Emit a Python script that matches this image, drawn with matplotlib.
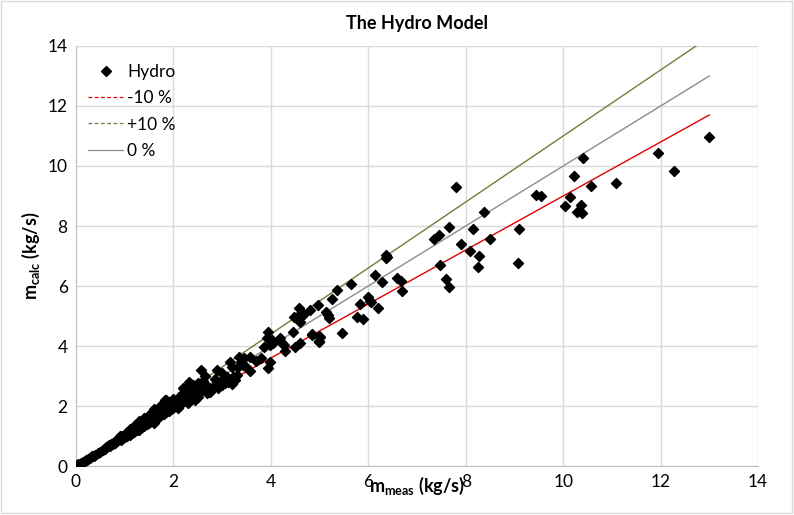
import numpy as np
import matplotlib.pyplot as plt
from matplotlib.lines import Line2D
from matplotlib.patches import Rectangle

plt.rcParams['font.family'] = ['Lato', 'DejaVu Sans']
plt.rcParams['mathtext.default'] = 'regular'

m_meas = [
    0.02, 0.05, 0.08, 0.10, 0.12, 0.15, 0.18, 0.20, 0.22, 0.25, 0.28, 0.30, 0.33, 0.36, 0.40, 0.45, 0.50, 0.55,
    0.60, 0.62, 0.65, 0.68, 0.70, 0.72, 0.75, 0.78, 0.80, 0.82, 0.85, 0.88, 0.90, 0.92, 0.95, 0.97, 1.00, 1.00,
    1.02, 1.05, 1.08, 1.10, 1.12, 1.15, 1.18, 1.20, 1.22, 1.25, 1.28, 1.30, 1.32, 1.35, 1.38, 1.40, 1.42, 1.45,
    1.48, 1.50, 1.30, 1.40,
    1.52, 1.55, 1.58, 1.60, 1.62, 1.65, 1.68, 1.70, 1.72, 1.75, 1.78, 1.80, 1.82, 1.85, 1.88, 1.90, 1.92, 1.95,
    1.98, 2.00, 1.60, 1.75, 1.85,
    2.02, 2.05, 2.08, 2.10, 2.12, 2.15, 2.18, 2.20, 2.22, 2.25, 2.28, 2.30, 2.32, 2.35, 2.38, 2.40, 2.42, 2.45,
    2.48, 2.50, 2.55, 2.60, 2.65, 2.70, 2.30, 2.56, 2.31, 2.34, 1.83, 2.51, 2.61, 2.92, 2.75, 2.68,
    1.50, 1.60, 1.70, 1.90, 2.00, 2.10, 2.20, 2.30, 2.40, 2.50, 2.60, 2.70, 2.80, 2.85, 2.90, 3.00,
    3.00, 3.10, 3.20, 2.45, 1.20, 1.10, 0.90, 1.30, 2.20, 2.65, 2.90, 3.20, 3.50, 3.45, 3.70, 3.80,
    3.09, 3.13, 3.06, 3.16, 3.02, 3.23, 3.26, 3.30, 3.35, 3.38, 3.33, 3.42, 3.57, 3.57, 3.98, 3.94,
    3.85, 3.95, 3.92, 4.02, 4.05, 3.98, 4.19, 4.22, 4.26, 4.30, 4.50, 4.60, 4.45, 4.48, 4.60, 4.84,
    5.00, 4.98, 4.58, 4.62, 4.65, 4.80, 4.96, 4.85, 4.99, 4.99, 4.63, 4.67, 5.13, 5.18, 5.20,
    5.26, 5.35, 5.64, 5.46, 5.77, 5.89, 5.84, 6.00, 6.04, 6.06, 6.19, 6.13, 6.29, 6.58, 6.68, 6.70,
    6.37, 6.38, 6.36, 7.34, 7.45, 7.48, 7.59, 7.66, 7.66, 7.80, 7.90, 8.08, 8.14, 8.28, 8.26, 8.37,
    8.49, 9.07, 9.10, 9.44, 9.54, 10.03, 10.14, 10.23, 10.40, 10.37, 10.29, 10.38, 10.57, 11.08,
    11.95, 12.28, 13.00,
]
m_calc = [
    0.03, 0.06, 0.08, 0.10, 0.11, 0.14, 0.17, 0.20, 0.21, 0.24, 0.27, 0.29, 0.32, 0.35, 0.38, 0.44, 0.48, 0.55,
    0.58, 0.64, 0.66, 0.70, 0.68, 0.75, 0.72, 0.80, 0.78, 0.85, 0.82, 0.90, 0.95, 0.88, 1.00, 0.93, 1.05, 0.96,
    1.10, 1.00, 1.12, 1.05, 1.20, 1.10, 1.25, 1.15, 1.30, 1.20, 1.35, 1.25, 1.40, 1.30, 1.45, 1.35, 1.50, 1.40,
    1.55, 1.45, 1.50, 1.60,
    1.60, 1.50, 1.65, 1.55, 1.75, 1.60, 1.80, 1.65, 1.85, 1.70, 1.90, 1.75, 1.95, 1.80, 2.00, 1.85, 2.05, 1.90,
    2.10, 1.95, 1.90, 2.05, 2.20,
    2.15, 2.00, 2.20, 2.05, 2.30, 2.10, 2.35, 2.15, 2.40, 2.20, 2.45, 2.25, 2.50, 2.30, 2.55, 2.35, 2.60, 2.40,
    2.65, 2.45, 2.50, 2.60, 2.55, 2.50, 2.64, 3.20, 2.81, 2.64, 2.20, 2.76, 2.64, 2.59, 2.48, 2.42,
    1.70, 1.45, 1.90, 2.15, 2.25, 1.95, 2.45, 2.10, 2.70, 2.30, 2.85, 2.65, 2.60, 2.90, 2.75, 2.70,
    3.10, 2.95, 3.30, 2.20, 1.35, 1.25, 1.00, 1.20, 2.60, 3.00, 3.20, 2.75, 3.30, 3.60, 3.50, 3.60,
    2.98, 2.81, 2.76, 3.48, 2.87, 2.98, 2.87, 3.03, 3.64, 3.48, 3.31, 3.37, 3.64, 3.18, 3.48, 3.26,
    3.98, 4.48, 4.26, 4.20, 4.09, 4.03, 4.26, 4.09, 4.03, 3.84, 3.98, 4.09, 4.48, 4.98, 4.79, 4.39,
    4.31, 4.14, 5.26, 5.09, 5.03, 5.20, 5.37, 4.37, 4.33, 4.16, 5.09, 5.06, 5.14, 5.03, 4.94,
    5.58, 5.88, 6.08, 4.44, 4.98, 4.91, 5.41, 5.64, 5.51, 5.46, 5.26, 6.37, 6.14, 6.26, 6.18, 5.82,
    7.03, 6.98, 6.92, 7.57, 7.69, 6.71, 6.22, 7.98, 5.98, 9.31, 7.41, 7.16, 7.89, 7.00, 6.64, 8.47,
    7.56, 6.78, 7.89, 9.02, 9.01, 8.68, 8.98, 9.68, 10.26, 8.70, 8.48, 8.42, 9.33, 9.42,
    10.42, 9.84, 10.98,
]

line_x = [0, 13]
ratios = {'-10 %': 0.9, '+10 %': 1.1, '0 %': 1.0}
colors = {'-10 %': '#e00000', '+10 %': '#6f7f3a', '0 %': '#8c8c8c'}

fig = plt.figure(figsize=(7.94, 5.15), dpi=100)
ax = fig.add_axes([0.0957, 0.0951, 0.859, 0.8156])

for name in ['0 %', '-10 %', '+10 %']:
    ax.plot(line_x, [v * ratios[name] for v in line_x], color=colors[name], lw=1.0, zorder=2)

ax.scatter(m_meas, m_calc, marker='D', s=26, color='black', zorder=3)

ax.set_xlim(0, 14)
ax.set_ylim(0, 14)
ax.set_xticks(np.arange(0, 15, 2))
ax.set_yticks(np.arange(0, 15, 2))
ax.grid(True, color='#d9d9d9', lw=1.0)
ax.set_axisbelow(True)
for s in ['top', 'right']:
    ax.spines[s].set_visible(False)
for s in ['left', 'bottom']:
    ax.spines[s].set_color('#bfbfbf')
ax.tick_params(length=0, labelsize=12.5, pad=6)

ax.set_title('The Hydro Model', fontsize=13, fontweight='bold', pad=12)
ax.set_xlabel('m$_{meas}$ (kg/s)', fontsize=13, fontweight='bold', labelpad=-11)
ax.set_ylabel('m$_{calc}$ (kg/s)', fontsize=13, fontweight='bold', labelpad=4)

handles = [
    Line2D([], [], marker='D', ls='none', color='black', markersize=5),
    Line2D([], [], color=colors['-10 %'], lw=0.9, ls=(0, (3, 2))),
    Line2D([], [], color=colors['+10 %'], lw=0.9, ls=(0, (3, 2))),
    Line2D([], [], color=colors['0 %'], lw=0.9),
]
ax.legend(handles, ['Hydro', '-10 %', '+10 %', '0 %'], loc='upper left',
          bbox_to_anchor=(-0.005, 0.995), frameon=False, fontsize=12.5,
          handlelength=2.0, handletextpad=0.25, labelspacing=0.6)

fig.patches.append(Rectangle((0.001, 0.004), 0.997, 0.994, transform=fig.transFigure,
                             fill=False, edgecolor='#d9d9d9', lw=1))

fig.savefig('out.png', dpi=100)
